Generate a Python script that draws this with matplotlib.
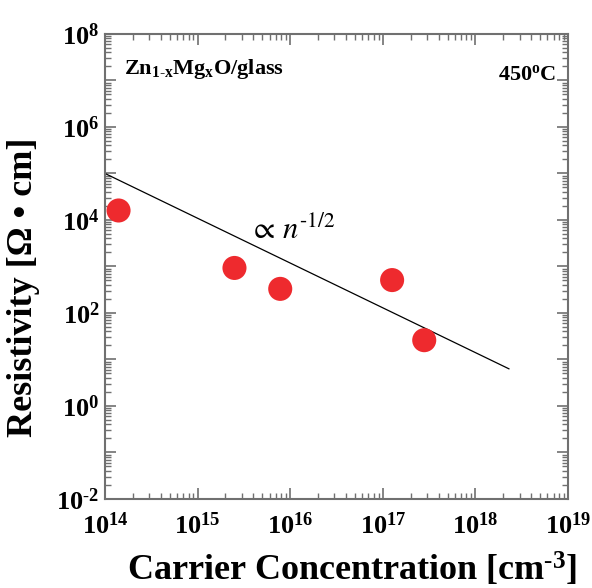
import numpy as np
import matplotlib
matplotlib.use("Agg")
import matplotlib.pyplot as plt
from matplotlib.ticker import LogLocator, FuncFormatter, NullFormatter

plt.rcParams.update({
    'font.family': 'Liberation Serif',
    'mathtext.fontset': 'custom',
    'mathtext.rm': 'Liberation Serif',
    'mathtext.bf': 'Liberation Serif:bold',
    'mathtext.it': 'Liberation Serif:italic',
})

# measured resistivity of Zn1-xMgxO films on glass (450 C)
carrier_conc = [1.4e14, 2.5e15, 7.8e15, 1.26e17, 2.8e17]
resistivity = [1.6e4, 9.3e2, 3.3e2, 5.1e2, 2.6e1]

# guide line
guide_n = [1.0e14, 2.3e18]
guide_rho = [1.0e5, 6.3]

AXIS_GREY = '#707070'
DOT_RED = '#ee2a2e'

fig = plt.figure(figsize=(5.92, 5.88), dpi=100)
ax = fig.add_axes([0.1774, 0.1514, 0.7821, 0.7908])

ax.plot(guide_n, guide_rho, color='black', linewidth=0.9, zorder=2)
ax.scatter(carrier_conc, resistivity, s=300, color=DOT_RED, edgecolors='none', zorder=3)

ax.set_xscale('log')
ax.set_yscale('log')
ax.set_xlim(1e14, 1e19)
ax.set_ylim(1e-2, 1e8)

ax.xaxis.set_major_locator(LogLocator(base=10, numticks=20))
ax.yaxis.set_major_locator(LogLocator(base=10, numticks=20))
ax.xaxis.set_minor_locator(LogLocator(base=10, subs=np.arange(2, 10), numticks=50))
ax.yaxis.set_minor_locator(LogLocator(base=10, subs=np.arange(2, 10), numticks=50))
ax.xaxis.set_minor_formatter(NullFormatter())
ax.yaxis.set_minor_formatter(NullFormatter())


def pow_label(val, pos):
    e = int(round(np.log10(val)))
    exp = str(e).replace('-', r'\text{-}')
    return r'$\mathbf{10^{%s}}$' % exp


def pow_label_even(val, pos):
    e = int(round(np.log10(val)))
    if e % 2:
        return ''
    return pow_label(val, pos)


ax.xaxis.set_major_formatter(FuncFormatter(pow_label))
ax.yaxis.set_major_formatter(FuncFormatter(pow_label_even))

ax.tick_params(which='both', direction='in', top=True, right=True,
               color=AXIS_GREY, labelsize=19)
ax.tick_params(which='major', length=8, width=1.2)
ax.tick_params(which='minor', length=4, width=1.0)
ax.tick_params(axis='x', which='major', pad=10)
ax.tick_params(axis='y', which='major', pad=4)
for sp in ax.spines.values():
    sp.set_color(AXIS_GREY)
    sp.set_linewidth(1.5)

ax.set_xlabel(r'$\mathbf{Carrier\ Concentration\ [cm^{\text{-}3}]}$', fontsize=26)
ax.xaxis.set_label_coords(0.534, -0.112)
ax.set_ylabel('Resistivity [Ω • cm]', fontsize=26, fontweight='bold')
ax.yaxis.set_label_coords(-0.14, 0.455)

ax.text(0.04, 0.915, r'Zn$_{\mathbf{1\text{-}x}}$Mg$_{\mathbf{x}}$O/glass',
        transform=ax.transAxes, fontsize=16, fontweight='bold', va='baseline')
ax.text(0.975, 0.90, r'450$^{\mathbf{o}}$C', transform=ax.transAxes,
        fontsize=16, fontweight='bold', ha='right', va='baseline')
ax.text(0.31, 0.56, r'$\propto\,\mathit{n}^{\mathrm{\text{-}1/2}}$', transform=ax.transAxes,
        fontsize=22, va='baseline', math_fontfamily='stix')

fig.savefig('out.png', dpi=100)
